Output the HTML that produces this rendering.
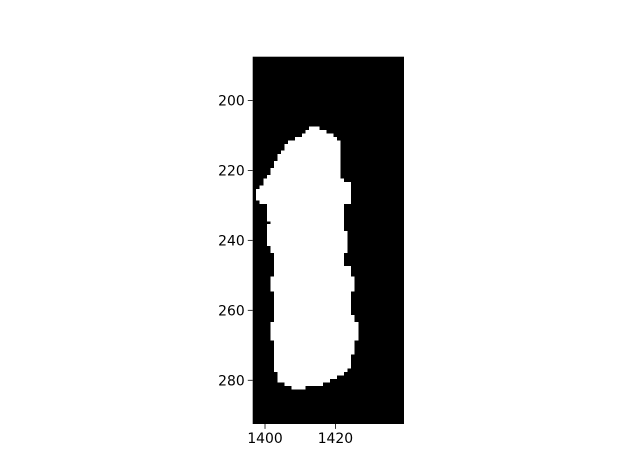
<!DOCTYPE html>
<html><head><meta charset="utf-8"><style>
body{margin:0;background:#fff}
svg{display:block}
text{font-family:"DejaVu Sans","Liberation Sans",sans-serif;font-size:13.9px;fill:#000}
</style></head><body>
<svg width="640" height="476" viewBox="0 0 640 476">
<g id="plot"></g>
</svg>
<script>
// mask rows: [rowStart,rowEnd] with left/right edges in data (column) coords
const rowStart=[208,209,210,211,212,213,215,216,218,220,222,223,224,225,226,229,230,235,236,238,242,244,248,251,255,262,264,269,273,277,278,279,280,281,282];
const rowEnd  =[208,209,210,211,212,214,215,217,219,221,222,223,224,225,228,229,234,235,237,241,243,247,250,254,261,263,268,272,276,277,278,279,280,281,282];
const leftEdge=[1412.5,1411.5,1410.5,1408.5,1406.5,1405.5,1404.5,1403.5,1402.5,1401.5,1400.5,1399.5,1399.5,1398.5,1397.5,1398.5,1400.5,1401.5,1400.5,1400.5,1401.5,1402.5,1402.5,1401.5,1402.5,1402.5,1401.5,1402.5,1402.5,1402.5,1403.5,1403.5,1403.5,1405.5,1407.5];
const rightEdge=[1415.5,1417.5,1419.5,1420.5,1421.5,1421.5,1421.5,1421.5,1421.5,1421.5,1421.5,1422.5,1424.5,1424.5,1424.5,1424.5,1422.5,1422.5,1422.5,1423.5,1423.5,1422.5,1424.5,1425.5,1424.5,1425.5,1426.5,1425.5,1424.5,1423.5,1422.5,1420.5,1418.5,1416.5,1411.5];
const xTicks=[1400,1420];
const yTicks=[200,220,240,260,280];
const xMin=1396.5,xMax=1439.5,yMin=187.5,yMax=292.5;

const L=252.7,R=404,T=56.7,B=424;
const sx=v=>L+(v-xMin)/(xMax-xMin)*(R-L);
const sy=v=>T+(v-yMin)/(yMax-yMin)*(B-T);
const NS="http://www.w3.org/2000/svg";
const g=document.getElementById('plot');
function mk(tag,attrs){const e=document.createElementNS(NS,tag);for(const k in attrs)e.setAttribute(k,attrs[k]);g.appendChild(e);return e;}

const bg=mk('rect',{x:L,y:T,width:R-L,height:B-T,fill:'#000'});



for(let i=0;i<rowStart.length;i++){
  const y0=sy(rowStart[i]-0.5), y1=sy(rowEnd[i]+0.5);
  const r=mk('rect',{x:sx(leftEdge[i]),y:y0-0.4,width:sx(rightEdge[i])-sx(leftEdge[i]),height:y1-y0+0.8,fill:'#fff','shape-rendering':'crispEdges'});
  
  
}
xTicks.forEach(v=>{
  const t=mk('line',{x1:sx(v),x2:sx(v),y1:B,y2:B+4.9,stroke:'#000','stroke-width':0.8});
  
  
  const l=mk('text',{x:sx(v),y:B+19,'text-anchor':'middle'});l.textContent=v;
  
  
});
yTicks.forEach(v=>{
  const t=mk('line',{x1:L-4.9,x2:L,y1:sy(v),y2:sy(v),stroke:'#000','stroke-width':0.8});
  
  
  const l=mk('text',{x:L-8,y:sy(v)+5,'text-anchor':'end'});l.textContent=v;
  
  
});
</script>
</body></html>
